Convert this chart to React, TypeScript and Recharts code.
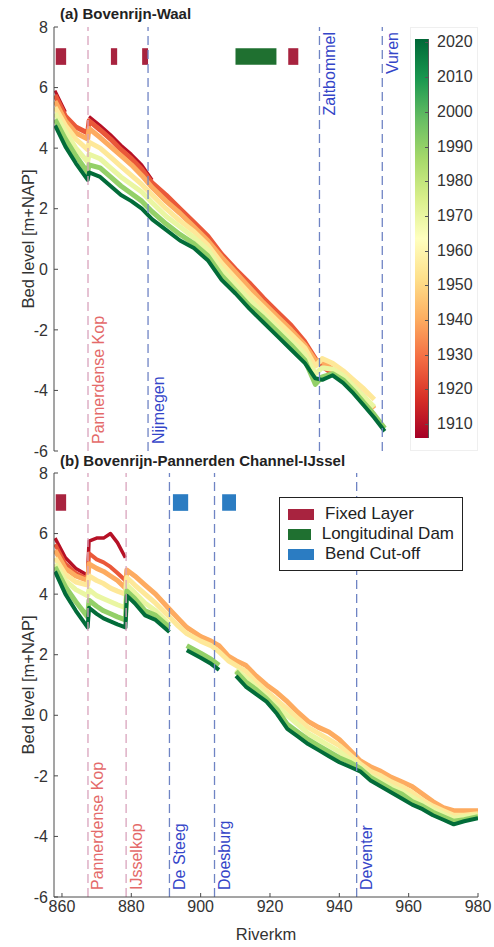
import React from 'react';
import {
  LineChart,
  Line,
  XAxis,
  YAxis,
  ReferenceLine,
  ReferenceArea,
  Legend,
} from 'recharts';

// ---- panel (a) Bovenrijn-Waal: bed level [m+NAP] per survey year ----
const KM_A = [858, 861, 864, 867.4, 867.8, 871, 874, 877, 880, 883, 886, 890, 894, 898, 902, 906, 910, 914, 918, 922, 926, 930, 933, 935, 938, 941, 944, 947, 950, 953];
const A_1910 = [5.9, 5.2, null, null, 5.05, 4.75, 4.45, 4.1, 3.8, 3.45, 2.95, null, null, null, null, null, null, null, null, null, null, null, null, null, null, null, null, null, null, null];
const A_1925 = [5.75, 5.05, 4.7, 4.5, 4.9, 4.6, 4.3, 3.95, 3.65, 3.3, 2.85, 2.45, 2.0, 1.55, 1.1, 0.5, 0.0, -0.45, -0.95, -1.4, -1.85, -2.4, -2.95, -3.2, -3.45, -3.7, -4.0, -4.35, -4.85, null];
const A_1940 = [5.55, 4.9, 4.5, 4.3, 4.65, 4.35, 4.05, 3.75, 3.45, 3.1, 2.7, 2.25, 1.85, 1.4, 0.95, 0.4, -0.1, -0.6, -1.1, -1.55, -2.0, -2.5, -3.0, -3.05, -3.3, -3.55, -3.85, -4.2, -4.6, null];
const A_1955 = [5.35, 4.75, 4.3, 3.95, 4.2, 4.0, 3.7, 3.4, 3.1, 2.8, 2.45, 2.0, 1.6, 1.25, 0.8, 0.2, -0.3, -0.8, -1.25, -1.7, -2.15, -2.6, -3.2, -2.95, -3.1, -3.35, -3.65, -3.95, -4.3, null];
const A_1970 = [5.15, 4.55, 4.0, 3.55, 3.8, 3.65, 3.35, 3.05, 2.8, 2.55, 2.2, 1.75, 1.4, 1.05, 0.65, 0.0, -0.5, -1.0, -1.45, -1.9, -2.35, -2.8, -3.45, -3.25, -3.3, -3.5, -3.85, -4.2, -4.55, null];
const A_1990 = [4.95, 4.3, 3.75, 3.2, 3.45, 3.35, 3.05, 2.75, 2.5, 2.25, 1.9, 1.5, 1.15, 0.85, 0.45, -0.2, -0.7, -1.2, -1.6, -2.05, -2.5, -3.0, -3.8, -3.55, -3.45, -3.65, -4.0, -4.4, -4.8, -5.25];
const A_2020 = [4.75, 4.05, 3.5, 2.95, 3.2, 3.05, 2.75, 2.45, 2.25, 2.0, 1.65, 1.3, 0.95, 0.7, 0.3, -0.35, -0.8, -1.3, -1.75, -2.2, -2.65, -3.1, -3.6, -3.65, -3.5, -3.75, -4.1, -4.5, -4.9, -5.35];

// ---- panel (b) Bovenrijn-Pannerden Channel-IJssel ----
const KM_B = [858, 861, 864, 867.4, 867.8, 870, 872, 874, 876, 878.3, 878.7, 881, 884, 887, 891, 893.5, 896, 900, 903, 905.3, 908, 910.2, 913, 916, 919, 922, 925, 928, 931, 934, 937, 940, 943, 946, 949, 952, 955, 958, 961, 964, 967, 970, 973, 976, 980];
const B_1910 = [5.85, 5.2, 4.85, 4.62, 5.75, 5.85, 5.85, 6.0, 5.7, 5.2, null, null, null, null, null, null, null, null, null, null, null, null, null, null, null, null, null, null, null, null, null, null, null, null, null, null, null, null, null, null, null, null, null, null, null];
const B_1925 = [5.65, 5.0, 4.7, 4.5, 5.35, 5.15, 5.05, 4.9, 4.7, 4.45, null, null, null, null, null, null, null, null, null, null, null, null, null, null, null, null, null, null, null, null, null, null, null, null, null, null, null, null, null, null, null, null, null, null, null];
const B_1940 = [5.45, 4.85, 4.6, 4.45, 5.0, 4.85, 4.75, 4.6, 4.45, 4.2, 4.8, 4.6, 4.3, 4.0, 3.5, 3.2, 2.9, 2.6, 2.45, 2.3, 1.95, 1.8, 1.65, 1.3, 1.0, 0.75, 0.45, 0.1, -0.2, -0.4, -0.55, -0.8, -1.15, -1.5, -1.7, -1.85, -2.05, -2.2, -2.35, -2.6, -2.85, -3.05, -3.15, -3.15, -3.15];
const B_1955 = [5.2, 4.65, 4.4, 4.3, 4.6, 4.45, 4.35, 4.2, 4.1, 4.0, 4.55, 4.3, 4.0, 3.7, 3.25, 2.95, 2.7, 2.45, 2.3, 2.1, 1.8, 1.65, 1.45, 1.1, 0.8, 0.5, 0.2, -0.1, -0.4, -0.6, -0.8, -1.0, -1.3, -1.6, -1.85, -2.0, -2.2, -2.35, -2.55, -2.8, -3.0, -3.15, -3.3, -3.3, -3.25];
const B_1970 = [5.0, 4.45, 4.15, 3.95, 4.15, 3.95, 3.85, 3.75, 3.65, 3.55, 4.3, 4.05, 3.7, 3.45, 3.0, null, null, null, null, null, null, 1.5, 1.25, 0.95, 0.65, 0.3, 0.0, -0.3, -0.6, -0.8, -1.0, -1.2, -1.45, -1.7, -2.0, -2.15, -2.35, -2.5, -2.7, -2.9, -3.1, -3.25, -3.4, -3.35, -3.3];
const B_1990 = [4.9, 4.25, 3.75, 3.25, 3.8, 3.6, 3.45, 3.35, 3.25, 3.15, 4.1, 3.85, 3.45, 3.3, 2.9, null, 2.3, 2.05, 1.85, 1.65, null, 1.45, 1.1, 0.85, 0.55, 0.2, -0.3, -0.55, -0.8, -1.0, -1.2, -1.4, -1.55, -1.75, -2.05, -2.25, -2.45, -2.6, -2.85, -3.0, -3.2, -3.35, -3.5, -3.45, -3.35];
const B_2020 = [4.75, 4.0, 3.45, 2.9, 3.55, 3.35, 3.2, 3.1, 3.0, 2.9, 3.95, 3.7, 3.3, 3.15, 2.75, null, 2.15, 1.9, 1.7, 1.5, null, 1.3, 0.95, 0.7, 0.45, 0.05, -0.45, -0.7, -0.95, -1.15, -1.35, -1.55, -1.7, -1.85, -2.15, -2.35, -2.55, -2.75, -2.95, -3.1, -3.3, -3.45, -3.6, -3.5, -3.4];

const SERIES_A = [
  { year: 1910, values: A_1910, width: 3 },
  { year: 1925, values: A_1925, width: 5 },
  { year: 1940, values: A_1940, width: 5 },
  { year: 1955, values: A_1955, width: 5 },
  { year: 1970, values: A_1970, width: 5 },
  { year: 1990, values: A_1990, width: 5 },
  { year: 2020, values: A_2020, width: 4 },
];
const SERIES_B = [
  { year: 1910, values: B_1910, width: 3.5 },
  { year: 1925, values: B_1925, width: 4 },
  { year: 1940, values: B_1940, width: 5 },
  { year: 1955, values: B_1955, width: 5 },
  { year: 1970, values: B_1970, width: 5 },
  { year: 1990, values: B_1990, width: 5 },
  { year: 2020, values: B_2020, width: 4 },
];

// river works shown as bars at 7 m
const MEASURES_A = [
  { kind: 'fixed', from: 858.2, to: 861.2 },
  { kind: 'fixed', from: 874.1, to: 875.9 },
  { kind: 'fixed', from: 883.1, to: 884.8 },
  { kind: 'dam', from: 910.0, to: 921.8 },
  { kind: 'fixed', from: 925.2, to: 928.1 },
];
const MEASURES_B = [
  { kind: 'fixed', from: 858.2, to: 861.2 },
  { kind: 'cutoff', from: 892.0, to: 896.4 },
  { kind: 'cutoff', from: 906.2, to: 910.2 },
];

const SITES_A = [
  { name: 'Pannerdense Kop', km: 867.5, kind: 'split', top: false },
  { name: 'Nijmegen', km: 884.8, kind: 'city', top: false },
  { name: 'Zaltbommel', km: 934.2, kind: 'city', top: true },
  { name: 'Vuren', km: 952.3, kind: 'city', top: true },
];
const SITES_B = [
  { name: 'Pannerdense Kop', km: 867.5, kind: 'split', top: false },
  { name: 'IJsselkop', km: 878.5, kind: 'split', top: false },
  { name: 'De Steeg', km: 891.0, kind: 'city', top: false },
  { name: 'Doesburg', km: 904.0, kind: 'city', top: false },
  { name: 'Deventer', km: 945.0, kind: 'city', top: false },
];

const LEGEND_ITEMS = [
  { kind: 'fixed', label: 'Fixed Layer' },
  { kind: 'dam', label: 'Longitudinal Dam' },
  { kind: 'cutoff', label: 'Bend Cut-off' },
];

const Y_TICKS = [-6, -4, -2, 0, 2, 4, 6, 8];
const X_TICKS_A = [860, 880, 900, 920, 940, 960];
const X_TICKS_B = [860, 880, 900, 920, 940, 960, 980];
const CBAR_TICKS = [1910, 1920, 1930, 1940, 1950, 1960, 1970, 1980, 1990, 2000, 2010, 2020];

const X_MIN = 857.7;
const CBAR_MIN = 1906;
const CBAR_MAX = 2021;

const MEASURE_COLOR: Record<string, string> = {
  fixed: '#a8233f',
  dam: '#1f7030',
  cutoff: '#2b7cc2',
};
const SITE_LINE: Record<string, string> = { split: '#d9a3bd', city: '#6f84c4' };
const SITE_TEXT: Record<string, string> = { split: '#e46a6a', city: '#3445c8' };

// RdYlGn colormap
const CMAP = ['#a50026', '#d73027', '#f46d43', '#fdae61', '#fee08b', '#ffffbf', '#d9ef8b', '#a6d96a', '#66bd63', '#1a9850', '#006837'];

function hexRgb(h: string) {
  const n = parseInt(h.slice(1), 16);
  return [(n >> 16) & 255, (n >> 8) & 255, n & 255];
}

function yearColor(year: number): string {
  const f = Math.min(1, Math.max(0, (year - CBAR_MIN) / (CBAR_MAX - CBAR_MIN)));
  const p = f * (CMAP.length - 1);
  const i = Math.min(CMAP.length - 2, Math.floor(p));
  const t = p - i;
  const a = hexRgb(CMAP[i]);
  const b = hexRgb(CMAP[i + 1]);
  const c = a.map((v, k) => Math.round(v + (b[k] - v) * t));
  return `rgb(${c[0]},${c[1]},${c[2]})`;
}

const FONT = '"Liberation Sans", Arial, sans-serif';
const AXIS = { stroke: '#4a4a4a', strokeWidth: 1 };
const TICK = { fontSize: 16, fill: '#333', fontFamily: FONT };

const siteLabel = (name: string, kind: string, atTop: boolean) => (props: any) => {
  const vb = props.viewBox || {};
  const x = (vb.x ?? 0) + 15.5;
  const y = atTop ? (vb.y ?? 0) + 5 : (vb.y ?? 0) + (vb.height ?? 0) - 7;
  return (
    <text
      x={x}
      y={y}
      transform={`rotate(-90 ${x} ${y})`}
      textAnchor={atTop ? 'end' : 'start'}
      fill={SITE_TEXT[kind]}
      fontSize={16}
      fontFamily={FONT}
    >
      {name}
    </text>
  );
};

function LegendBox() {
  return (
    <div
      style={{
        border: '1.5px solid #222',
        background: '#fff',
        padding: '6px 8px',
        width: 184,
        boxSizing: 'border-box',
        fontFamily: FONT,
      }}
    >
      {LEGEND_ITEMS.map((it) => (
        <div key={it.kind} style={{ display: 'flex', alignItems: 'center', height: 20 }}>
          <span
            style={{
              display: 'inline-block',
              width: 26,
              height: 11,
              background: MEASURE_COLOR[it.kind],
              marginRight: 11,
            }}
          />
          <span style={{ fontSize: 17, color: '#222', whiteSpace: 'nowrap' }}>{it.label}</span>
        </div>
      ))}
    </div>
  );
}

interface PanelProps {
  km: number[];
  series: { year: number; values: (number | null)[]; width: number }[];
  xMax: number;
  xTicks: number[];
  sites: { name: string; km: number; kind: string; top: boolean }[];
  measures: { kind: string; from: number; to: number }[];
  height: number;
  margin: { top: number; right: number; bottom: number; left: number };
  xAxisHeight: number;
  showXLabels: boolean;
  legend?: boolean;
}

function Panel(p: PanelProps) {
  const data = p.km.map((k, i) => {
    const row: Record<string, number | null> = { km: k };
    p.series.forEach((s) => {
      row[`y${s.year}`] = s.values[i];
    });
    return row;
  });
  const dom: [number, number] = [X_MIN, p.xMax];

  return (
    <LineChart width={494} height={p.height} data={data} margin={p.margin}>
      <XAxis
        dataKey="km"
        type="number"
        domain={dom}
        ticks={p.xTicks}
        interval={0}
        allowDataOverflow
        height={p.xAxisHeight}
        tickSize={-4}
        tickMargin={8}
        tick={p.showXLabels ? TICK : false}
        axisLine={AXIS}
        tickLine={AXIS}
      />
      <XAxis
        xAxisId="top"
        orientation="top"
        dataKey="km"
        type="number"
        domain={dom}
        ticks={p.xTicks}
        interval={0}
        allowDataOverflow
        height={0}
        tickSize={-4}
        tick={false}
        axisLine={AXIS}
        tickLine={AXIS}
      />
      <YAxis
        type="number"
        domain={[-6, 8]}
        ticks={Y_TICKS}
        interval={0}
        allowDataOverflow
        width={54}
        tickSize={-4}
        tickMargin={10}
        tick={TICK}
        axisLine={AXIS}
        tickLine={AXIS}
      />
      <YAxis
        yAxisId="right"
        orientation="right"
        type="number"
        domain={[-6, 8]}
        ticks={Y_TICKS}
        interval={0}
        allowDataOverflow
        width={0}
        tickSize={-4}
        tick={false}
        axisLine={AXIS}
        tickLine={AXIS}
      />
      {p.measures.map((m, i) => (
        <ReferenceArea
          key={`m${i}`}
          x1={m.from}
          x2={m.to}
          y1={6.75}
          y2={7.3}
          fill={MEASURE_COLOR[m.kind]}
          fillOpacity={1}
          stroke="none"
        />
      ))}
      {p.series.map((s) => (
        <Line
          key={s.year}
          type="linear"
          dataKey={`y${s.year}`}
          stroke={yearColor(s.year)}
          strokeWidth={s.width}
          strokeLinejoin="round"
          dot={false}
          activeDot={false}
          connectNulls={false}
          isAnimationActive={false}
        />
      ))}
      {p.sites.map((s) => (
        <ReferenceLine
          key={s.name}
          x={s.km}
          stroke={SITE_LINE[s.kind]}
          strokeWidth={1.3}
          strokeDasharray="9 5"
          label={siteLabel(s.name, s.kind, s.top)}
        />
      ))}
      {p.legend && (
        <Legend
          layout="horizontal"
          verticalAlign="middle"
          align="center"
          wrapperStyle={{ left: 279, top: 42, width: 184 }}
          content={() => <LegendBox />}
        />
      )}
    </LineChart>
  );
}

function ColorBar() {
  const top = 39;
  const h = 399;
  const left = 415;
  const w = 14;
  const stops = CMAP.map((c, i) => `${c} ${(i / (CMAP.length - 1)) * 100}%`).join(', ');
  const yOf = (yr: number) => top + ((CBAR_MAX - yr) / (CBAR_MAX - CBAR_MIN)) * h;
  return (
    <>
      <div
        style={{
          position: 'absolute',
          left: 410,
          top: 27,
          width: 68,
          height: 424,
          border: '1px solid #efefef',
          boxSizing: 'border-box',
        }}
      />
      <div
        style={{
          position: 'absolute',
          left,
          top,
          width: w,
          height: h,
          background: `linear-gradient(to top, ${stops})`,
          boxShadow: 'inset -1px 0 0 #555',
        }}
      />
      {CBAR_TICKS.map((yr) => (
        <React.Fragment key={yr}>
          <div
            style={{
              position: 'absolute',
              left: left + w - 4,
              top: yOf(yr),
              width: 4,
              height: 1,
              background: '#555',
            }}
          />
          <div
            style={{
              position: 'absolute',
              left: 437,
              top: yOf(yr) - 9,
              fontSize: 16,
              lineHeight: '18px',
              color: '#333',
              fontFamily: FONT,
            }}
          >
            {yr}
          </div>
        </React.Fragment>
      ))}
    </>
  );
}

export default function App() {
  return (
    <div
      style={{
        position: 'absolute',
        left: 0,
        top: 0,
        width: 494,
        height: 947,
        background: '#fff',
        fontFamily: FONT,
        overflow: 'hidden',
      }}
    >
      <div style={{ position: 'absolute', left: 0, top: 0 }}>
        <Panel
          km={KM_A}
          series={SERIES_A}
          xMax={960}
          xTicks={X_TICKS_A}
          sites={SITES_A}
          measures={MEASURES_A}
          height={470}
          margin={{ top: 27, right: 85, bottom: 19, left: 0 }}
          xAxisHeight={0}
          showXLabels={false}
        />
      </div>
      <div style={{ position: 'absolute', left: 0, top: 455 }}>
        <Panel
          km={KM_B}
          series={SERIES_B}
          xMax={980}
          xTicks={X_TICKS_B}
          sites={SITES_B}
          measures={MEASURES_B}
          height={492}
          margin={{ top: 18, right: 16, bottom: 0, left: 0 }}
          xAxisHeight={50}
          showXLabels
          legend
        />
      </div>
      <ColorBar />
      <svg
        width={494}
        height={947}
        style={{ position: 'absolute', left: 0, top: 0, pointerEvents: 'none' }}
      >
        <text x={60} y={19} fontSize={15} fontWeight="bold" fill="#222" fontFamily={FONT}>
          (a) Bovenrijn-Waal
        </text>
        <text x={60} y={466} fontSize={15} fontWeight="bold" fill="#222" fontFamily={FONT}>
          (b) Bovenrijn-Pannerden Channel-IJssel
        </text>
        <text
          x={34}
          y={239}
          transform="rotate(-90 34 239)"
          textAnchor="middle"
          fontSize={16.5}
          fill="#333"
          fontFamily={FONT}
        >
          Bed level [m+NAP]
        </text>
        <text
          x={34}
          y={685}
          transform="rotate(-90 34 685)"
          textAnchor="middle"
          fontSize={16.5}
          fill="#333"
          fontFamily={FONT}
        >
          Bed level [m+NAP]
        </text>
        <text x={266} y={940} textAnchor="middle" fontSize={16.5} fill="#333" fontFamily={FONT}>
          Riverkm
        </text>
      </svg>
    </div>
  );
}
